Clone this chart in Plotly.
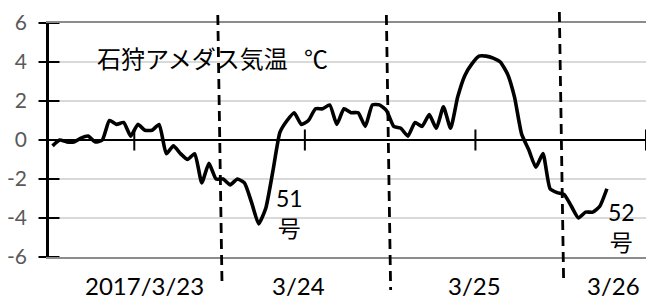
import plotly.graph_objects as go

# ---- data (hourly air temperature, Ishikari AMeDAS, from 2017/3/23) ----
hour_index = list(range(79))
temps = [-0.3, 0.0, -0.1, -0.1, 0.1, 0.2, -0.1, 0.0, 1.0, 0.8,
         0.9, 0.2, 0.8, 0.5, 0.5, 0.8, -0.7, -0.3, -0.7, -1.0,
         -0.7, -2.2, -1.2, -2.0, -2.0, -2.3, -2.0, -2.2, -3.2, -4.3,
         -3.5, -1.6, 0.4, 1.0, 1.4, 0.8, 1.0, 1.6, 1.6, 1.8,
         0.8, 1.6, 1.4, 1.4, 0.7, 1.8, 1.8, 1.5, 0.7, 0.6,
         0.2, 0.9, 0.7, 1.3, 0.6, 1.7, 0.6, 2.2, 3.3, 3.9,
         4.3, 4.3, 4.2, 4.0, 3.4, 2.2, 0.3, -0.5, -1.4, -0.7,
         -2.5, -2.7, -2.8, -3.4, -4.0, -3.7, -3.7, -3.4, -2.5]
y_ticks = [-6, -4, -2, 0, 2, 4, 6]
y_tick_text = ["-6", "-4", "-2", "0", "2", "4", "6"]
x_ticks = [12, 36, 60, 84]
day_labels = ["2017/3/23", "3/24", "3/25", "3/26"]
day_label_pos = [13.4, 35.1, 59.8, 79.4]
day_boundaries = [24.05, 47.77, 72.11]
storm_labels = ["51<br>号", "52<br>号"]
storm_pos = [33.9, 80.6]
storm_y = [-3.75, -4.45]
title_text = "石狩アメダス気温\u00a0\u00a0\u00a0℃"

W, H = 646, 299
L, R, T, B = 49, 0, 23, 42
X_RANGE = [0, 84]
Y_RANGE = [-6, 6]

x_vals = [h + 0.5 for h in hour_index]

fig = go.Figure()

fig.add_trace(go.Scatter(
    x=x_vals, y=temps, mode="lines",
    line=dict(color="black", width=3.6, shape="spline", smoothing=0.5),
    hoverinfo="skip", showlegend=False))

# cross tick marks on y axis
fig.add_trace(go.Scatter(
    x=[0] * len(y_ticks), y=y_ticks, mode="markers", cliponaxis=False,
    marker=dict(symbol="line-ew", size=15, line=dict(color="black", width=2)),
    hoverinfo="skip", showlegend=False))
# cross tick marks on horizontal axis (at y = 0)
fig.add_trace(go.Scatter(
    x=x_ticks, y=[0] * len(x_ticks), mode="markers", cliponaxis=False,
    marker=dict(symbol="line-ns", size=15, line=dict(color="black", width=2)),
    hoverinfo="skip", showlegend=False))

plot_h = H - T - B
def paper_y(py):
    return (H - B - py) / plot_h

# dashed day boundary lines (slightly slanted, hand-drawn)
tops = [15, 15, 12]
bottoms = [287, 290, 282]
for xb, tp, bt in zip(day_boundaries, tops, bottoms):
    fig.add_shape(type="line", xref="x", yref="paper",
                  x0=xb - 0.3, x1=xb + 0.3, y0=paper_y(tp), y1=paper_y(bt),
                  line=dict(color="black", width=2.8, dash="10px,6px"),
                  layer="above")

annotations = []
for lab, xp in zip(day_labels, day_label_pos):
    annotations.append(dict(x=xp, y=paper_y(285), xref="x", yref="paper", text=lab,
                            showarrow=False, xanchor="center", yanchor="middle",
                            font=dict(family="Lato", size=24, color="black")))
for lab, xp, yp in zip(storm_labels, storm_pos, storm_y):
    annotations.append(dict(x=xp, y=yp, xref="x", yref="y", text=lab,
                            showarrow=False, xanchor="center", yanchor="middle",
                            font=dict(family="Lato, Noto Sans CJK JP", size=23,
                                      color="black")))
annotations.append(dict(x=6.5, y=4.22, xref="x", yref="y", text=title_text,
                        showarrow=False, xanchor="left", yanchor="middle",
                        font=dict(family="Noto Sans CJK JP", size=24, color="black")))

fig.update_layout(
    width=W, height=H,
    margin=dict(l=L, r=R, t=T, b=B, pad=0),
    paper_bgcolor="white", plot_bgcolor="white",
    annotations=annotations,
    xaxis=dict(range=X_RANGE, showgrid=False, zeroline=False, automargin=False,
               showticklabels=False, ticks="",
               showline=True, mirror=True, linecolor="#8c8c8c", linewidth=2),
    yaxis=dict(range=Y_RANGE, tickvals=y_ticks, ticktext=y_tick_text,
               automargin=False,
               showgrid=True, gridcolor="#d9d9d9", gridwidth=1.5,
               zeroline=True, zerolinecolor="black", zerolinewidth=2,
               showline=True, linecolor="black", linewidth=2.5,
               ticks="outside", ticklen=7, tickcolor="black", tickwidth=2,
               ticklabelstandoff=8,
               tickfont=dict(family="Lato", size=21, color="#595959")),
)

fig.write_html("out.html", config={"displayModeBar": False},
               post_script="document.body.style.margin='0';document.body.style.overflow='hidden';")
